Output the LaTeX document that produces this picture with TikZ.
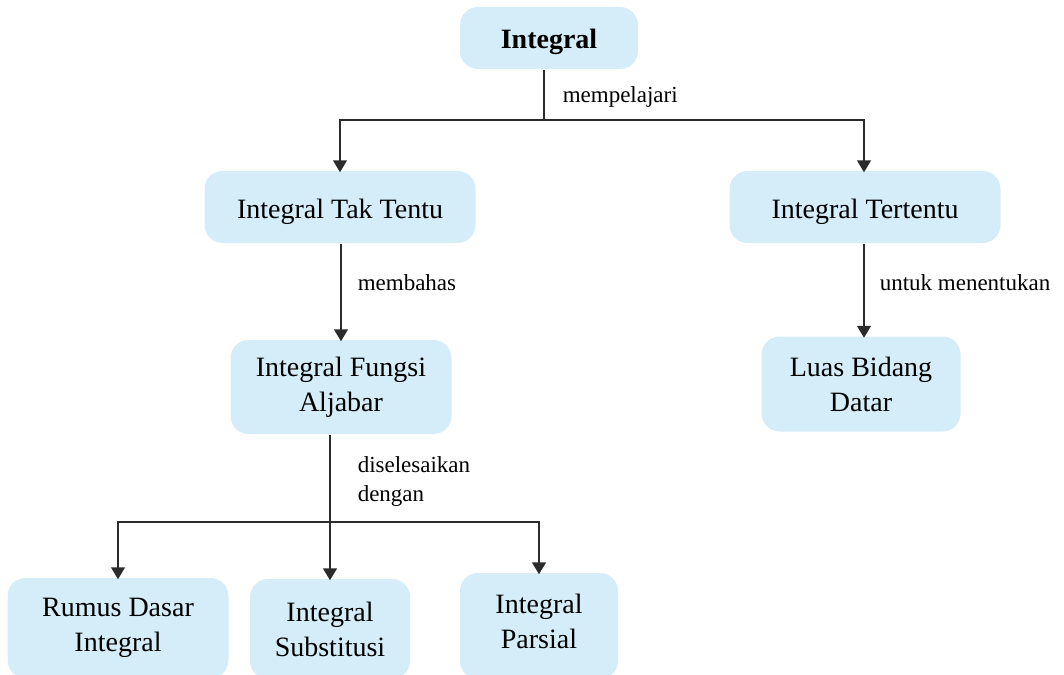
\documentclass[tikz,border=0pt]{standalone}
\usepackage{fontspec}
\setmainfont{Liberation Serif}
\usetikzlibrary{arrows.meta}

\definecolor{boxblue}{HTML}{D4EDF9}
\definecolor{linegray}{HTML}{2B2B2B}

\newcommand{\txtbig}{\fontsize{28}{35}\selectfont}
\newcommand{\txtsmall}{\fontsize{23}{29}\selectfont}
\newcommand{\bx}{\node[fill=boxblue, rounded corners=18pt, align=center, font=\txtbig, inner sep=0pt]}
\newcommand{\bxone}{\bx[text height=22pt, text depth=0pt]}
\newcommand{\lbl}{\node[anchor=west, align=left, font=\txtsmall, inner sep=0pt]}

\begin{document}
\begin{tikzpicture}[x=1pt, y=-1pt, line width=1.5pt, draw=linegray,
    arr/.style={-{Triangle[width=14pt,length=12pt]}, shorten >=-2pt}]
            \useasboundingbox (0,0) rectangle (1064,674);

            \bxone[font=\txtbig\bfseries, minimum width=178pt, minimum height=62pt] (intg) at (549,38) {Integral};
            \bxone[minimum width=271pt, minimum height=72pt] (taktentu) at (340,207) {Integral Tak Tentu};
            \bxone[minimum width=271pt, minimum height=72pt] (tertentu) at (865,207) {Integral Tertentu};
            \bx[minimum width=221pt, minimum height=94pt] (fungsi) at (341,387) {Integral Fungsi\\Aljabar};
            \bx[minimum width=199pt, minimum height=95pt] (luas) at (861,384) {Luas Bidang\\Datar};
            \bx[minimum width=221pt, minimum height=100pt] (rumus) at (118,628) {Rumus Dasar\\Integral};
            \bx[minimum width=160pt, minimum height=100pt] (subst) at (330,629) {Integral\\Substitusi};
            \bx[text depth=10pt, minimum width=158pt, minimum height=106pt] (parsial) at (539,626) {Integral\\Parsial};

            \coordinate (j1) at (544,120);
            \coordinate (j2) at (330,522);

            \draw (intg.south -| j1) -- (j1);
            \draw[arr] (j1) -| (taktentu.north);
            \draw[arr] (j1) -| (tertentu.north -| 864,0);
            \draw[arr] (taktentu.south -| fungsi.north) -- (fungsi.north);
            \draw[arr] (tertentu.south -| 864,0) -- (luas.north -| 864,0);
            \draw[arr] (fungsi.south -| subst.north) -- (subst.north);
            \draw[arr] (j2) -| (rumus.north);
            \draw[arr] (j2) -| (parsial.north);

            \lbl (l1) at (562,97) {mempelajari};
            \lbl (l2) at (357,283) {membahas};
            \lbl (l3) at (879,283) {untuk menentukan};
            \lbl (l4) at (357,481) {diselesaikan\\dengan};
\end{tikzpicture}
\end{document}
